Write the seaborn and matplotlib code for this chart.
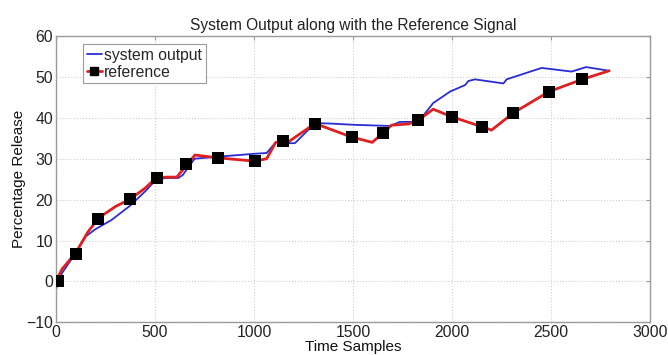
import numpy as np
import pandas as pd
import matplotlib
matplotlib.use("Agg")
import matplotlib.pyplot as plt
import seaborn as sns
from matplotlib.lines import Line2D

# system output (blue)
sys_x = [0, 30, 100, 150, 200, 280, 374, 450, 508, 560, 618, 640, 700, 820, 1000, 1064,
         1110, 1150, 1207, 1308, 1384, 1500, 1687, 1737, 1830, 1905, 1990, 2066, 2083,
         2116, 2260, 2276, 2453, 2604, 2677, 2794]
sys_y = [-2, 2, 7, 11, 12.8, 15, 18.5, 22, 25, 25.3, 25.3, 26, 30, 30.5, 31.2, 31.4,
         34, 33.8, 33.8, 38.7, 38.6, 38.3, 38.0, 39, 39, 43.6, 46.4, 48, 49,
         49.4, 48.4, 49.4, 52.2, 51.3, 52.4, 51.5]

# reference (red line)
ref_x = [0, 30, 100, 160, 215, 300, 374, 450, 508, 560, 610, 702, 820, 1005, 1064, 1110,
         1170, 1308, 1493, 1597, 1650, 1695, 1780, 1830, 1905, 2002, 2153, 2200, 2310,
         2490, 2658, 2794]
ref_y = [0, 3, 7, 12, 15.5, 18.3, 20.1, 22.8, 25.4, 25.5, 25.5, 30.9, 30.2, 29.4, 30, 34,
         34, 38.6, 35.3, 34, 36.2, 38.2, 38.5, 39.4, 42.1, 40.2, 37.8, 37, 41.2,
         46.4, 49.4, 51.5]

# reference markers (black squares)
mk_x = [10, 101, 212, 374, 508, 657, 820, 1005, 1145, 1308, 1493, 1650, 1830, 2002,
        2153, 2310, 2490, 2658]
mk_y = [0, 6.8, 15.3, 20.1, 25.4, 28.6, 30.2, 29.4, 34.3, 38.6, 35.3, 36.2, 39.4, 40.2,
        37.8, 41.2, 46.4, 49.4]

sns.set_style("white")
plt.rcParams['font.family'] = ['Liberation Sans', 'DejaVu Sans']

fig = plt.figure(figsize=(6.68, 3.55), dpi=100)
ax = fig.add_axes([0.0838, 0.092, 0.8892, 0.8066])

df_sys = pd.DataFrame({"x": sys_x, "y": sys_y})
df_ref = pd.DataFrame({"x": ref_x, "y": ref_y})
df_mk = pd.DataFrame({"x": mk_x, "y": mk_y})

sns.lineplot(data=df_sys, x="x", y="y", ax=ax, color="#2b2bd6", lw=1.3, sort=False)
sns.lineplot(data=df_ref, x="x", y="y", ax=ax, color="#e02020", lw=2.0, sort=False)
sns.scatterplot(data=df_mk, x="x", y="y", ax=ax, marker="s", color="black", s=75,
                edgecolor="black", linewidth=0, zorder=5)

ax.set_xlim(0, 3000)
ax.set_ylim(-10, 60)
ax.set_xticks(np.arange(0, 3001, 500))
ax.set_yticks(np.arange(-10, 61, 10))
ax.grid(True, color="#cfcfcf", linestyle=":", linewidth=0.8)
for s in ax.spines.values():
    s.set_color("#9a9a9a")
    s.set_linewidth(1.0)
ax.tick_params(direction="in", length=3, color="#9a9a9a", labelsize=11.3,
               top=True, right=True, pad=2)
for lab in ax.get_xticklabels() + ax.get_yticklabels():
    lab.set_color("#222222")

ax.set_title("System Output along with the Reference Signal", fontsize=11.2, pad=4, color="#222222")
ax.set_xlabel("Time Samples", fontsize=11, labelpad=0, color="#111111")
ax.set_ylabel("Percentage Release", fontsize=11, labelpad=0, color="#111111")

handles = [Line2D([], [], color="#2b2bd6", lw=1.3),
           Line2D([], [], color="#e02020", lw=2.0, marker="s", markersize=6,
                  markerfacecolor="black", markeredgecolor="black")]
leg = ax.legend(handles, ["system output", "reference"], loc="upper left",
                bbox_to_anchor=(0.045, 0.972), borderaxespad=0, fontsize=11.3,
                handlelength=1.0, handletextpad=0.1, borderpad=0.25, labelspacing=0.1,
                fancybox=False, framealpha=1, edgecolor="#9a9a9a")
leg.get_frame().set_linewidth(0.8)

fig.savefig("out.png", dpi=100)
